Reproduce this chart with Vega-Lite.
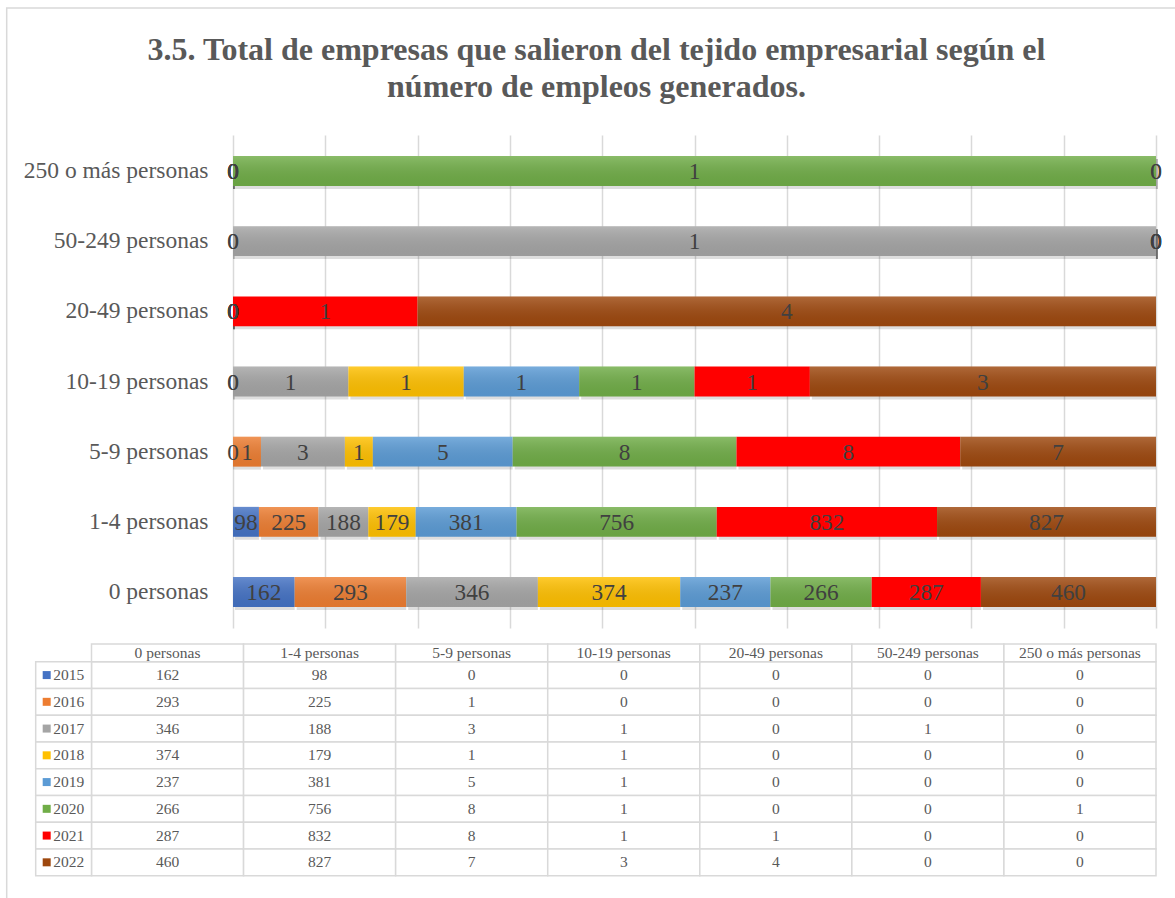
{
  "$schema": "https://vega.github.io/schema/vega-lite/v6.json",
  "width": 923,
  "height": 493,
  "autosize": {"type": "none"},
  "padding": {"left": 233, "top": 135, "right": 19, "bottom": 270},
  "background": "white",
  "config": {"view": {"stroke": null}, "font": "Liberation Serif"},
  "title": {
    "text": ["3.5. Total de empresas que salieron del tejido empresarial según el", "número de empleos generados."],
    "font": "Liberation Serif",
    "fontSize": 32,
    "fontWeight": "bold",
    "color": "#595959",
    "lineHeight": 37.4,
    "anchor": "middle",
    "frame": "group",
    "baseline": "bottom",
    "dx": -98,
    "offset": -129
  },
  "datasets": {
    "main": [
      {"size": "0 personas", "year": "2015", "n": 162},
      {"size": "0 personas", "year": "2016", "n": 293},
      {"size": "0 personas", "year": "2017", "n": 346},
      {"size": "0 personas", "year": "2018", "n": 374},
      {"size": "0 personas", "year": "2019", "n": 237},
      {"size": "0 personas", "year": "2020", "n": 266},
      {"size": "0 personas", "year": "2021", "n": 287},
      {"size": "0 personas", "year": "2022", "n": 460},
      {"size": "1-4 personas", "year": "2015", "n": 98},
      {"size": "1-4 personas", "year": "2016", "n": 225},
      {"size": "1-4 personas", "year": "2017", "n": 188},
      {"size": "1-4 personas", "year": "2018", "n": 179},
      {"size": "1-4 personas", "year": "2019", "n": 381},
      {"size": "1-4 personas", "year": "2020", "n": 756},
      {"size": "1-4 personas", "year": "2021", "n": 832},
      {"size": "1-4 personas", "year": "2022", "n": 827},
      {"size": "5-9 personas", "year": "2015", "n": 0},
      {"size": "5-9 personas", "year": "2016", "n": 1},
      {"size": "5-9 personas", "year": "2017", "n": 3},
      {"size": "5-9 personas", "year": "2018", "n": 1},
      {"size": "5-9 personas", "year": "2019", "n": 5},
      {"size": "5-9 personas", "year": "2020", "n": 8},
      {"size": "5-9 personas", "year": "2021", "n": 8},
      {"size": "5-9 personas", "year": "2022", "n": 7},
      {"size": "10-19 personas", "year": "2015", "n": 0},
      {"size": "10-19 personas", "year": "2016", "n": 0},
      {"size": "10-19 personas", "year": "2017", "n": 1},
      {"size": "10-19 personas", "year": "2018", "n": 1},
      {"size": "10-19 personas", "year": "2019", "n": 1},
      {"size": "10-19 personas", "year": "2020", "n": 1},
      {"size": "10-19 personas", "year": "2021", "n": 1},
      {"size": "10-19 personas", "year": "2022", "n": 3},
      {"size": "20-49 personas", "year": "2015", "n": 0},
      {"size": "20-49 personas", "year": "2016", "n": 0},
      {"size": "20-49 personas", "year": "2017", "n": 0},
      {"size": "20-49 personas", "year": "2018", "n": 0},
      {"size": "20-49 personas", "year": "2019", "n": 0},
      {"size": "20-49 personas", "year": "2020", "n": 0},
      {"size": "20-49 personas", "year": "2021", "n": 1},
      {"size": "20-49 personas", "year": "2022", "n": 4},
      {"size": "50-249 personas", "year": "2015", "n": 0},
      {"size": "50-249 personas", "year": "2016", "n": 0},
      {"size": "50-249 personas", "year": "2017", "n": 1},
      {"size": "50-249 personas", "year": "2018", "n": 0},
      {"size": "50-249 personas", "year": "2019", "n": 0},
      {"size": "50-249 personas", "year": "2020", "n": 0},
      {"size": "50-249 personas", "year": "2021", "n": 0},
      {"size": "50-249 personas", "year": "2022", "n": 0},
      {"size": "250 o más personas", "year": "2015", "n": 0},
      {"size": "250 o más personas", "year": "2016", "n": 0},
      {"size": "250 o más personas", "year": "2017", "n": 0},
      {"size": "250 o más personas", "year": "2018", "n": 0},
      {"size": "250 o más personas", "year": "2019", "n": 0},
      {"size": "250 o más personas", "year": "2020", "n": 1},
      {"size": "250 o más personas", "year": "2021", "n": 0},
      {"size": "250 o más personas", "year": "2022", "n": 0}
    ]
  },
  "layer": [
    {
      "data": {"name": "main"},
      "transform": [
        {"stack": "n", "groupby": ["size"], "sort": [{"field": "year", "order": "ascending"}], "offset": "normalize", "as": ["s0", "s1"]},
        {"calculate": "(datum.s0 + datum.s1) / 2", "as": "mid"}
      ],
      "encoding": {
        "y": {
          "field": "size",
          "type": "nominal",
          "title": null,
          "scale": {
            "domain": ["250 o más personas", "50-249 personas", "20-49 personas", "10-19 personas", "5-9 personas", "1-4 personas", "0 personas"],
            "paddingInner": 0.574,
            "paddingOuter": 0.3
          },
          "axis": {
            "ticks": false,
            "domain": false,
            "grid": false,
            "labelFont": "Liberation Serif",
            "labelFontSize": 23.5,
            "labelColor": "#595959",
            "labelPadding": 25,
            "labelLimit": 400
          }
        }
      },
      "layer": [
        {
          "mark": {"type": "bar", "color": "#000000", "opacity": 0.13, "xOffset": 2, "yOffset": 3},
          "encoding": {
            "x": {
              "field": "s0",
              "type": "quantitative",
              "scale": {"domain": [0, 1]},
              "title": null,
              "axis": {
                "values": [0, 0.1, 0.2, 0.3, 0.4, 0.5, 0.6, 0.7, 0.8, 0.9, 1],
                "labels": false,
                "ticks": false,
                "domain": false,
                "grid": true,
                "gridColor": "#d9d9d9",
                "gridWidth": 1.5,
                "title": null
              }
            },
            "x2": {"field": "s1"}
          }
        },
        {
          "mark": {"type": "bar"},
          "encoding": {
            "x": {"field": "s0", "type": "quantitative"},
            "x2": {"field": "s1"},
            "color": {
              "field": "year",
              "type": "nominal",
              "legend": null,
              "scale": {
                "domain": ["2015", "2016", "2017", "2018", "2019", "2020", "2021", "2022"],
                "range": ["#4472C4", "#ED7D31", "#A5A5A5", "#FFC000", "#5B9BD5", "#70AD47", "#FF0000", "#9E480E"]
              }
            }
          }
        },
        {
          "transform": [{"filter": "datum.year != '2021'"}],
          "mark": {
            "type": "bar",
            "fill": {
              "gradient": "linear",
              "x1": 0, "y1": 0, "x2": 0, "y2": 1,
              "stops": [
                {"offset": 0, "color": "rgba(255,255,255,0.18)"},
                {"offset": 1, "color": "rgba(0,0,0,0.06)"}
              ]
            }
          },
          "encoding": {
            "x": {"field": "s0", "type": "quantitative"},
            "x2": {"field": "s1"}
          }
        },
        {
          "mark": {"type": "text", "font": "Liberation Serif", "fontSize": 23.3, "color": "#404040", "align": "center", "baseline": "middle", "dy": 1},
          "encoding": {
            "x": {"field": "mid", "type": "quantitative"},
            "text": {"field": "n", "type": "quantitative"}
          }
        }
      ]
    },
    {
      "layer": [
        {
          "data": {"name": "main"},
          "encoding": {
            "x": {
              "field": "size",
              "type": "nominal",
              "axis": null,
              "scale": {
                "domain": ["0 personas", "1-4 personas", "5-9 personas", "10-19 personas", "20-49 personas", "50-249 personas", "250 o más personas"],
                "range": [-141.5, 923],
                "paddingInner": 0,
                "paddingOuter": 0
              }
            },
            "y": {
              "field": "year",
              "type": "nominal",
              "axis": null,
              "scale": {
                "domain": ["2015", "2016", "2017", "2018", "2019", "2020", "2021", "2022"],
                "range": [526.7, 740.7],
                "paddingInner": 0,
                "paddingOuter": 0
              }
            }
          },
          "layer": [
            {"mark": {"type": "rect", "fill": "white", "stroke": "#d9d9d9", "strokeWidth": 1.5}},
            {
              "mark": {"type": "text", "font": "Liberation Serif", "fontSize": 15.5, "color": "#595959", "align": "center", "baseline": "middle"},
              "encoding": {"text": {"field": "n", "type": "quantitative"}}
            }
          ]
        },
        {
          "data": {"name": "main"},
          "transform": [{"filter": "datum.year == '2015'"}],
          "encoding": {
            "x": {
              "field": "size",
              "type": "nominal",
              "axis": null,
              "scale": {
                "domain": ["0 personas", "1-4 personas", "5-9 personas", "10-19 personas", "20-49 personas", "50-249 personas", "250 o más personas"],
                "range": [-141.5, 923],
                "paddingInner": 0,
                "paddingOuter": 0
              }
            },
            "y": {
              "field": "year",
              "type": "nominal",
              "axis": null,
              "scale": {"domain": ["2015"], "range": [509, 526.7], "paddingInner": 0, "paddingOuter": 0}
            }
          },
          "layer": [
            {"mark": {"type": "rect", "fill": "white", "stroke": "#d9d9d9", "strokeWidth": 1.5}},
            {
              "mark": {"type": "text", "font": "Liberation Serif", "fontSize": 15.5, "color": "#595959", "align": "center", "baseline": "middle"},
              "encoding": {"text": {"field": "size", "type": "nominal"}}
            }
          ]
        },
        {
          "data": {"name": "main"},
          "transform": [{"filter": "datum.size == '0 personas'"}],
          "encoding": {
            "y": {
              "field": "year",
              "type": "nominal",
              "axis": null,
              "scale": {
                "domain": ["2015", "2016", "2017", "2018", "2019", "2020", "2021", "2022"],
                "range": [526.7, 740.7],
                "paddingInner": 0,
                "paddingOuter": 0
              }
            }
          },
          "layer": [
            {
              "mark": {"type": "rect", "fill": "white", "stroke": "#d9d9d9", "strokeWidth": 1.5},
              "encoding": {
                "x": {"datum": 0, "type": "quantitative", "axis": null, "scale": {"domain": [0, 1], "range": [-197.3, -141.5]}},
                "x2": {"datum": 1}
              }
            },
            {
              "mark": {"type": "point", "shape": "square", "filled": true, "size": 64, "opacity": 1},
              "encoding": {
                "x": {"datum": 0.197, "type": "quantitative", "axis": null, "scale": {"domain": [0, 1], "range": [-197.3, -141.5]}},
                "color": {
                  "field": "year",
                  "type": "nominal",
                  "legend": null,
                  "scale": {
                    "domain": ["2015", "2016", "2017", "2018", "2019", "2020", "2021", "2022"],
                    "range": ["#4472C4", "#ED7D31", "#A5A5A5", "#FFC000", "#5B9BD5", "#70AD47", "#FF0000", "#9E480E"]
                  }
                }
              }
            },
            {
              "mark": {"type": "text", "font": "Liberation Serif", "fontSize": 15.5, "color": "#595959", "align": "left", "baseline": "middle"},
              "encoding": {
                "x": {"datum": 0.315, "type": "quantitative", "axis": null, "scale": {"domain": [0, 1], "range": [-197.3, -141.5]}},
                "text": {"field": "year", "type": "nominal"}
              }
            }
          ],
          "resolve": {"scale": {"x": "shared"}}
        },
        {
          "data": {"values": [{"frame": "chart"}]},
          "mark": {"type": "rect", "fill": "transparent", "stroke": "#d9d9d9", "strokeWidth": 1.5},
          "encoding": {
            "x": {"datum": 0, "type": "quantitative", "axis": null, "scale": {"domain": [0, 1], "range": [-226.3, 952]}},
            "x2": {"datum": 1},
            "y": {"datum": 0, "type": "quantitative", "axis": null, "scale": {"domain": [0, 1], "range": [-127, 770]}},
            "y2": {"datum": 1}
          }
        }
      ],
      "resolve": {"scale": {"x": "independent", "y": "independent"}}
    }
  ],
  "resolve": {"scale": {"x": "independent", "y": "independent"}}
}
